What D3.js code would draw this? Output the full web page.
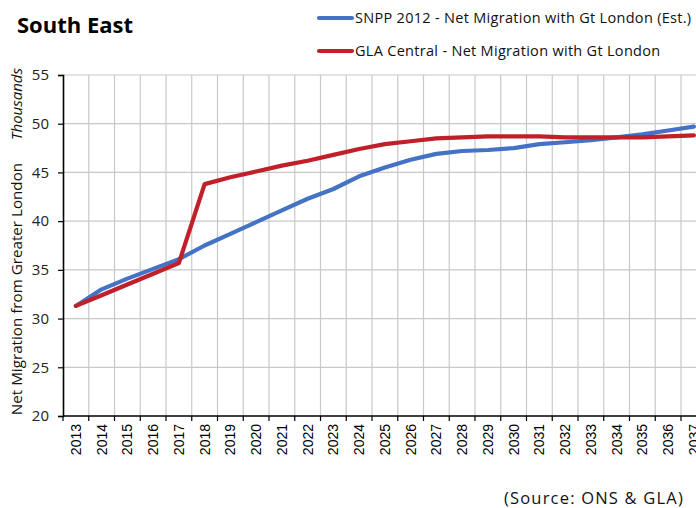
<!DOCTYPE html>
<html>
<head>
<meta charset="utf-8">
<script src="https://cdn.jsdelivr.net/npm/d3@7"></script>
<style>
  body { margin: 0; background: #fff; }
  svg { display: block; }
</style>
</head>
<body>
<div id="chart"></div>
<script>
// categories + series (thousands)
const YEARS = ["2013","2014","2015","2016","2017","2018","2019","2020","2021","2022","2023","2024",
  "2025","2026","2027","2028","2029","2030","2031","2032","2033","2034","2035","2036","2037"];
const SNPP = [31.3,33.0,34.1,35.1,36.1,37.5,38.7,39.9,41.1,42.3,43.3,44.6,
  45.5,46.3,46.9,47.2,47.3,47.5,47.9,48.1,48.3,48.6,48.9,49.3,49.7];
const GLA = [31.3,32.4,33.5,34.6,35.7,43.8,44.5,45.1,45.7,46.2,46.8,47.4,
  47.9,48.2,48.5,48.6,48.7,48.7,48.7,48.6,48.6,48.6,48.6,48.7,48.8];
const Y_TICKS = [20,25,30,35,40,45,50,55];
const SERIES_NAMES = ["SNPP 2012 - Net Migration with Gt London (Est.)", "GLA Central - Net Migration with Gt London"];
const COLORS = ["#4472C4", "#C0202A"];

const W = 696, H = 508;
const plotLeft = 63, plotTop = 75, plotBottom = 416;
const step = 25.75;

const svg = d3.select("#chart").append("svg")
  .attr("width", W).attr("height", H);

const x = d3.scaleBand().domain(YEARS).range([plotLeft, plotLeft + step * YEARS.length]).padding(0);
const y = d3.scaleLinear().domain([20, 55]).range([plotBottom, plotTop]);

// gridlines
const grid = svg.append("g");
grid.selectAll(".hg").data(Y_TICKS.slice(1)).enter().append("line")
  .attr("x1", plotLeft).attr("x2", W)
  .attr("y1", d => y(d)).attr("y2", d => y(d))
  .attr("stroke", "#c8c8c8").attr("stroke-width", 1.2);
grid.selectAll(".vg").data(YEARS.slice(1)).enter().append("line")
  .attr("x1", d => x(d)).attr("x2", d => x(d))
  .attr("y1", plotTop).attr("y2", plotBottom)
  .attr("stroke", "#c8c8c8").attr("stroke-width", 1.2);

// y axis
const yAxis = svg.append("g")
  .attr("transform", `translate(${plotLeft},0)`)
  .call(d3.axisLeft(y).tickValues(Y_TICKS).tickSize(5).tickPadding(9));
yAxis.select(".domain").attr("stroke", "#000").attr("stroke-width", 1.6);
yAxis.selectAll(".tick line").attr("stroke", "#000").attr("stroke-width", 1.2);
yAxis.selectAll("text")
  .style("font-family", "'Open Sans', sans-serif")
  .style("font-size", "15px").attr("fill", "#222");

// x axis
const xAxis = svg.append("g")
  .attr("transform", `translate(0,${plotBottom})`)
  .call(d3.axisBottom(x).tickSize(0).tickPadding(0));
xAxis.select(".domain").remove();
xAxis.append("line").attr("x1", plotLeft).attr("x2", W).attr("y1", 0).attr("y2", 0)
  .attr("stroke", "#000").attr("stroke-width", 1.6);
xAxis.selectAll(".xt").data(YEARS).enter().append("line")
  .attr("x1", d => x(d)).attr("x2", d => x(d))
  .attr("y1", 0).attr("y2", 5)
  .attr("stroke", "#000").attr("stroke-width", 1.2);
xAxis.selectAll(".tick text")
  .attr("transform", "rotate(-90)")
  .attr("x", -8).attr("y", 0).attr("dy", "0.35em")
  .attr("text-anchor", "end")
  .style("font-family", "'Liberation Sans', Arial, sans-serif")
  .style("font-size", "14px").attr("fill", "#000");

// lines
const line = d3.line()
  .x((d, i) => x(YEARS[i]) + x.bandwidth() / 2)
  .y(d => y(d));
[SNPP, GLA].forEach((s, i) => {
  svg.append("path").datum(s)
    .attr("d", line)
    .attr("fill", "none")
    .attr("stroke", COLORS[i])
    .attr("stroke-width", 4.2)
    .attr("stroke-linejoin", "round")
    .attr("stroke-linecap", "round");
});

// titles
svg.append("text").attr("x", 17).attr("y", 33)
  .style("font-family", "'Open Sans', sans-serif")
  .style("font-weight", "bold").style("font-size", "22px")
  .text("South East");

svg.append("text")
  .attr("transform", "translate(22,289) rotate(-90)")
  .attr("text-anchor", "middle")
  .style("font-family", "'Open Sans', sans-serif").style("font-size", "15.2px")
  .attr("fill", "#111")
  .text("Net Migration from Greater London");

svg.append("text")
  .attr("transform", "translate(22,104) rotate(-90)")
  .attr("text-anchor", "middle")
  .style("font-family", "'Open Sans', sans-serif").style("font-size", "15px")
  .style("font-style", "italic")
  .attr("fill", "#111")
  .text("Thousands");

// legend
const lg = svg.append("g");
SERIES_NAMES.forEach((name, i) => {
  const ly = 18 + i * 33;
  lg.append("line").attr("x1", 319).attr("x2", 352).attr("y1", ly).attr("y2", ly)
    .attr("stroke", COLORS[i]).attr("stroke-width", 4.2).attr("stroke-linecap", "round");
  lg.append("text").attr("x", 355).attr("y", ly).attr("dy", "0.35em")
    .style("font-family", "'Open Sans', sans-serif").style("font-size", "14.5px")
    .style("letter-spacing", "0.3px")
    .attr("fill", "#111")
    .text(name);
});

svg.append("text").attr("x", 684).attr("y", 504)
  .attr("text-anchor", "end")
  .style("font-family", "'Open Sans', sans-serif").style("font-size", "16.5px")
  .style("letter-spacing", "1.2px")
  .attr("fill", "#111")
  .text("(Source: ONS & GLA)");
</script>
</body>
</html>
